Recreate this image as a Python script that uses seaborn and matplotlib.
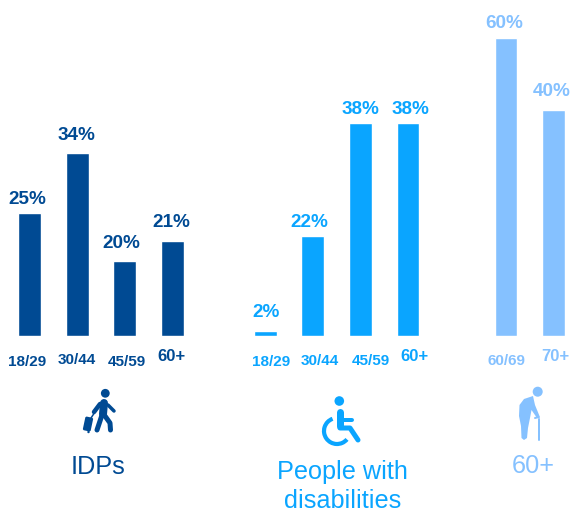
import matplotlib
matplotlib.use("Agg")
import matplotlib.pyplot as plt
from matplotlib.patches import Circle, Arc, Polygon, FancyBboxPatch
from matplotlib.transforms import Affine2D, ScaledTranslation
import pandas as pd
import seaborn as sns

sns.set_style("white")
plt.rcParams['font.family'] = ['Liberation Sans', 'DejaVu Sans']

W, H = 573, 513
BASE = 336.3

idp_cats = ["18/29", "30/44", "45/59", "60+"]
idp_labels = ["25%", "34%", "20%", "21%"]
idp_heights = [123, 183, 75, 95]          # bar heights as drawn in the source picture

pwd_cats = ["18/29", "30/44", "45/59", "60+"]
pwd_labels = ["2%", "22%", "38%", "38%"]
pwd_heights = [5, 100, 213, 213]

old_cats = ["60/69", "70+"]
old_labels = ["60%", "40%"]
old_heights = [298.3, 226.3]

# hand placement of the labels in the source (pixels)
idp_style = dict(lab_dx=[-2.5, -0.5, -3.3, -1], lab_gap=[14.3, 18.3, 18, 19],
                 tick_dx=[-2, -0.5, 2.2, -0.4], tick_pad=[13.3, 12.2, 13.3, 9.4])
pwd_style = dict(lab_dx=[0.7, -3, -0.4, 2], lab_gap=[19, 14, 14, 14],
                 tick_dx=[5.7, 7.5, 10, 6.5], tick_pad=[13.3, 12.6, 12.6, 9])
old_style = dict(lab_dx=[-1.5, -2], lab_gap=[15, 18],
                 tick_dx=[0, 1.3], tick_pad=[12.6, 8.8])

DARK, MID, LIGHT = "#004A93", "#0AA5FF", "#85C1FF"

panels = [
    (idp_cats, idp_heights, idp_labels, idp_style, DARK, 5.7),
    (pwd_cats, pwd_heights, pwd_labels, pwd_style, MID, 241.4),
    (old_cats, old_heights, old_labels, old_style, LIGHT, 482.2),
]
STEP = 47.6

fig = plt.figure(figsize=(W / 100, H / 100), dpi=100, facecolor="white")

for cats, heights, labels, st, color, left in panels:
    n = len(cats)
    ax = fig.add_axes([left / W, 1 - BASE / H, n * STEP / W, BASE / H])
    ax.patch.set_alpha(0)
    df = pd.DataFrame({"cat": cats, "h": heights})
    sns.barplot(df, x="cat", y="h", color=color, saturation=1, width=0.48, ax=ax)
    ax.set_ylim(0, BASE)
    ax.set_xlim(-0.5, n - 0.5)
    ax.set_xlabel(""); ax.set_ylabel("")
    ax.set_yticks([])
    sns.despine(ax=ax, left=True, bottom=True)
    ax.tick_params(axis="x", length=0)
    for lab, dx, tick, pad in zip(ax.get_xticklabels(), st["tick_dx"],
                                  ax.xaxis.get_major_ticks(), st["tick_pad"]):
        tick.set_pad(pad)
        lab.set_fontsize(12 if lab.get_text().endswith("+") else 11)
        lab.set_fontweight("bold")
        lab.set_color(color)
        lab.set_transform(lab.get_transform() + ScaledTranslation(dx / 100, 0, fig.dpi_scale_trans))
    for i, (bar, text) in enumerate(zip(ax.containers[0], labels)):
        ax.annotate(text, (i, bar.get_height()),
                    xytext=(st["lab_dx"][i] * 0.72, st["lab_gap"][i] * 0.72),
                    textcoords="offset points", ha="center", va="center",
                    color=color, fontsize=13.6, fontweight="bold", annotation_clip=False)

# overlay for group titles and pictograms, in picture pixels
ov = fig.add_axes([0, 0, 1, 1])
ov.set_xlim(0, W); ov.set_ylim(H, 0); ov.axis("off"); ov.patch.set_alpha(0)

ov.text(98, 467, "IDPs", color=DARK, fontsize=18.2, ha="center", va="center")
ov.text(342.5, 486.5, "People with\ndisabilities", color=MID, fontsize=18.2, ha="center",
        va="center", linespacing=1.25)
ov.text(533, 466, "60+", color=LIGHT, fontsize=18.2, ha="center", va="center")


def stroke(pts, color, lw):
    xs, ys = zip(*pts)
    ov.plot(xs, ys, color=color, lw=lw * 0.72, solid_capstyle="round", solid_joinstyle="round")


# traveller
ov.add_patch(Circle((105.3, 393.3), 4.4, color=DARK, lw=0))
stroke([(104, 403), (103, 414)], DARK, 8)
stroke([(100, 404), (94, 412)], DARK, 4.5)
stroke([(102, 415), (97, 430)], DARK, 5)
stroke([(105, 416), (110, 423), (110.5, 430)], DARK, 5)
stroke([(108, 405), (114, 411)], DARK, 3.5)
stroke([(91, 418), (97, 409)], DARK, 1.5)
case = FancyBboxPatch((-4, -7), 8, 14, boxstyle="round,pad=0,rounding_size=1.5", color=DARK, lw=0)
case.set_transform(Affine2D().rotate_deg(12).translate(88, 424) + ov.transData)
ov.add_patch(case)
ov.add_patch(Circle((88.5, 432), 1.2, color=DARK, lw=0))

# wheelchair
ov.add_patch(Circle((339.3, 401), 4.8, color=MID, lw=0))
stroke([(339.5, 412), (339.5, 426)], MID, 7)
stroke([(340, 420), (352, 420)], MID, 4)
stroke([(340, 428), (350, 428), (358, 440)], MID, 5)
ov.add_patch(Arc((337, 431), 26, 26, theta1=40, theta2=250, color=MID, lw=3))

# older person
ov.add_patch(Circle((537.7, 391.7), 5, color=LIGHT, lw=0))
ov.add_patch(Polygon([(533, 396), (524, 399), (519.5, 405), (519, 416), (521, 426), (521.5, 438),
                      (524, 440), (527, 438), (528, 428), (530, 418), (531.5, 410), (537, 418),
                      (539.5, 416), (535, 405)], closed=True, color=LIGHT, lw=0))
stroke([(539.3, 419), (539.3, 440)], LIGHT, 2)
stroke([(535, 418), (539, 417)], LIGHT, 2)

fig.savefig("out.png", dpi=100, facecolor="white")
